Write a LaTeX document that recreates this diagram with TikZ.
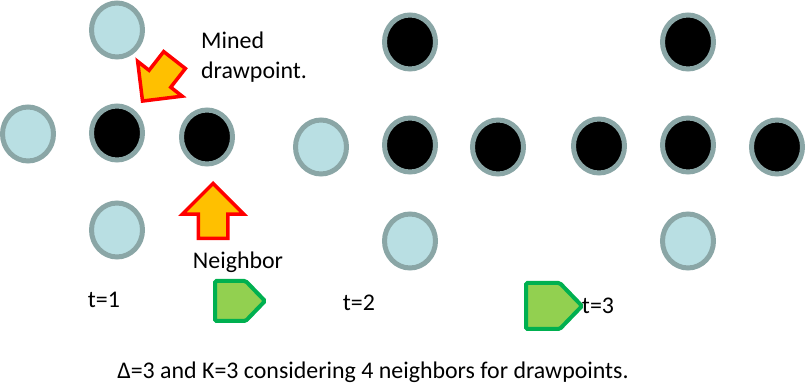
\documentclass[tikz,border=0pt]{standalone}
\usepackage{fontspec}
\setmainfont{Carlito}
\usetikzlibrary{shapes.geometric,shapes.arrows,shapes.symbols}
\definecolor{ringgray}{HTML}{8AA6A6}
\definecolor{cellblue}{HTML}{B9DFE3}
\definecolor{arrowfill}{HTML}{FFC000}
\definecolor{stepgreen}{HTML}{92D050}
\definecolor{stepedge}{HTML}{00B050}
\tikzset{
  cell/.style={ellipse, draw=ringgray, line width=5pt, fill=cellblue, minimum width=51pt, minimum height=54pt, inner sep=0pt},
  mined/.style={cell, fill=black},
  pointer/.style={single arrow, draw=red, line width=3.5pt, fill=arrowfill, inner xsep=0pt, single arrow head indent=0pt},
  stepbox/.style={signal, signal to=east, signal pointer angle=92, draw=stepedge, line width=4pt, fill=stepgreen, rounded corners=1.5pt, inner sep=0pt, anchor=west},
  lbl/.style={inner sep=0pt}
}
\begin{document}
\begin{tikzpicture}[x=1pt, y=-1pt, font=\fontsize{23.9}{30}\selectfont]
\useasboundingbox (0,0) rectangle (806,387);
% t=1
\node[cell] (a1) at (117,30) {};
\node[cell] (a2) at (28,134) {};
\node[mined] (a3) at (117,133) {};
\node[mined] (a4) at (207,137) {};
\node[cell] (a5) at (117,230) {};
% t=2
\node[mined] (b1) at (410,42) {};
\node[cell] (b2) at (321,147) {};
\node[mined] (b3) at (410,145) {};
\node[mined] (b4) at (498,147) {};
\node[cell] (b5) at (410,241) {};
% t=3
\node[mined] (c1) at (688,42) {};
\node[mined] (c2) at (599,146) {};
\node[mined] (c3) at (688,145) {};
\node[mined] (c4) at (777,147) {};
\node[cell] (c5) at (688,241) {};
% arrows and labels
\node[pointer, rotate=232, inner ysep=12pt, minimum height=52pt, single arrow head extend=14.5pt, anchor=tip] (minedarrow) at (141,103) {};
\node[pointer, rotate=90, inner ysep=13pt, minimum height=55pt, single arrow head extend=16pt, anchor=tip] (nbarrow) at (213,181) {};
\node[lbl, anchor=west, align=left] (minedlbl) at (201,57) {Mined\\drawpoint.};
\node[lbl] (nblbl) at (238,262) {Neighbor};
\node[lbl] (t1) at (104,300) {t=1};
\node[lbl] (t2) at (359,303) {t=2};
\node[lbl] (t3) at (598,306) {t=3};
\node[stepbox, minimum width=50pt, minimum height=40pt] (s1) at (213,301) {};
\node[stepbox, minimum width=56pt, minimum height=46pt] (s2) at (524,306) {};
\node[lbl] (caption) at (373,372) {Δ=3 and K=3 considering 4 neighbors for drawpoints.};
\end{tikzpicture}
\end{document}
